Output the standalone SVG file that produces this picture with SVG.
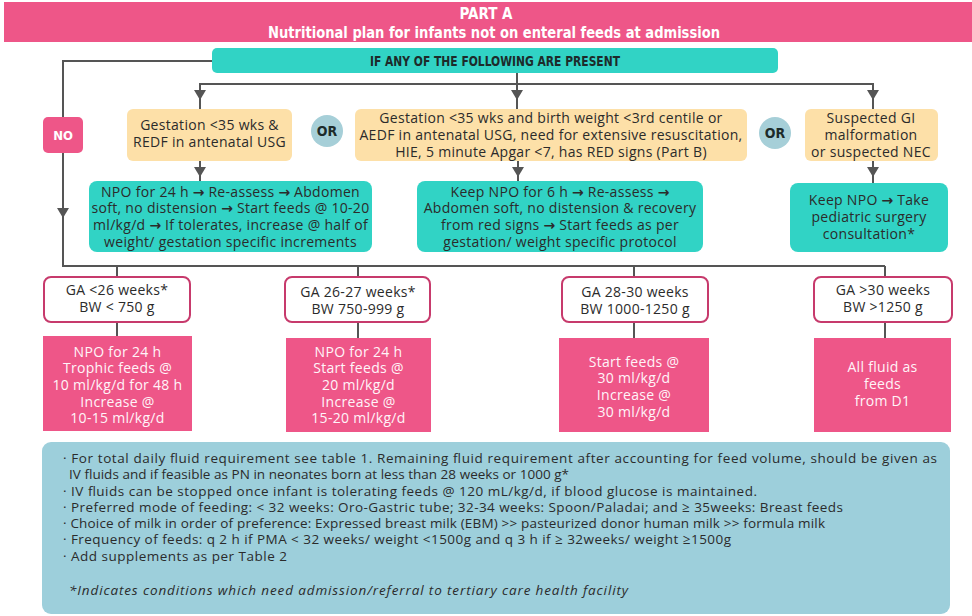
<svg xmlns="http://www.w3.org/2000/svg" width="972" height="616" viewBox="0 0 972 616">
<style>
.t{font-family:"Open Sans","Liberation Sans",sans-serif;font-size:14px;letter-spacing:0.3px;fill:#2b2b2b;text-anchor:middle}
.w{fill:#fff4f8}
.a{font-family:"DejaVu Sans",sans-serif;font-weight:bold;letter-spacing:0}
.n{font-family:"Open Sans","Liberation Sans",sans-serif;font-size:13.5px;fill:#2b2b2b}
.c{font-family:"DejaVu Sans Condensed","DejaVu Sans",sans-serif;font-stretch:condensed;font-weight:bold;text-anchor:middle}
.ln{stroke:#555;stroke-width:2;fill:none}
.ar{fill:#555}
.y{fill:#fde0a8}
.g{fill:#31d3c5}
.p{fill:#ee5688}
.ga{fill:#fff;stroke:#c73a6c;stroke-width:2}
</style>
<rect x="0" y="0" width="972" height="616" fill="#fff"/>
<g id="header">
<rect x="4" y="2" width="968" height="40" class="p"/>
<text x="486" y="19" class="c" font-size="15" fill="#fff">PART A</text>
<text x="494" y="38" class="c" font-size="15" fill="#fff" textLength="452" lengthAdjust="spacingAndGlyphs">Nutritional plan for infants not on enteral feeds at admission</text>
</g>
<g id="connectors">
<polyline class="ln" points="212,61 63,61 63,266 885,266"/>
<line class="ln" x1="517" y1="73" x2="517" y2="84"/>
<polyline class="ln" points="200,109 200,84 873,84 873,109"/>
<line class="ln" x1="517" y1="84" x2="517" y2="109"/>
<line class="ln" x1="200" y1="161" x2="200" y2="181"/>
<line class="ln" x1="518" y1="161" x2="518" y2="181"/>
<line class="ln" x1="873" y1="161" x2="873" y2="183"/>
<line class="ln" x1="117" y1="266" x2="117" y2="277"/>
<line class="ln" x1="358" y1="266" x2="358" y2="277"/>
<line class="ln" x1="634" y1="266" x2="634" y2="277"/>
<line class="ln" x1="885" y1="266" x2="885" y2="277"/>
<line class="ln" x1="117" y1="322" x2="117" y2="337"/>
<line class="ln" x1="358" y1="322" x2="358" y2="338"/>
<line class="ln" x1="634" y1="322" x2="634" y2="338"/>
<line class="ln" x1="885" y1="322" x2="885" y2="338"/>
<polygon class="ar" points="194,90 206,90 200,100"/>
<polygon class="ar" points="511,90 523,90 517,100"/>
<polygon class="ar" points="867,90 879,90 873,100"/>
<polygon class="ar" points="194,167 206,167 200,177"/>
<polygon class="ar" points="512,167 524,167 518,177"/>
<polygon class="ar" points="867,167 879,167 873,177"/>
<polygon class="ar" points="57,208 69,208 63,218"/>
</g>
<g id="start">
<rect x="212" y="48" width="566" height="25" rx="5" class="g"/>
<text x="495" y="66" class="c" font-size="14" fill="#1d2b2b" textLength="250" lengthAdjust="spacingAndGlyphs">IF ANY OF THE FOLLOWING ARE PRESENT</text>
</g>
<g id="no">
<rect x="43" y="117" width="40" height="36" rx="5" class="p"/>
<text x="63" y="140" class="c" font-size="13" fill="#fff">NO</text>
</g>
<g id="cond1">
<rect x="127" y="109" width="165" height="52" rx="6" class="y"/>
<text class="t" x="209.5" y="130">Gestation &lt;35 wks &amp;</text>
<text class="t" x="209.5" y="147">REDF in antenatal USG</text>
</g>
<g id="or1">
<circle cx="327" cy="131" r="16" fill="#a6cfd8"/>
<text x="327" y="136" class="c" font-size="14" fill="#1d2b2b">OR</text>
</g>
<g id="cond2">
<rect x="355" y="109" width="392" height="52" rx="6" class="y"/>
<text class="t" x="551" y="123">Gestation &lt;35 wks and birth weight &lt;3rd centile or</text>
<text class="t" x="551" y="140">AEDF in antenatal USG, need for extensive resuscitation,</text>
<text class="t" x="551" y="157">HIE, 5 minute Apgar &lt;7, has RED signs (Part B)</text>
</g>
<g id="or2">
<circle cx="775" cy="133" r="16" fill="#a6cfd8"/>
<text x="775" y="138" class="c" font-size="14" fill="#1d2b2b">OR</text>
</g>
<g id="cond3">
<rect x="805" y="109" width="133" height="52" rx="6" class="y"/>
<text class="t" x="871" y="123">Suspected GI</text>
<text class="t" x="871" y="140">malformation</text>
<text class="t" x="871" y="157">or suspected NEC</text>
</g>
<g id="act1">
<rect x="89" y="181" width="283" height="71" rx="8" class="g"/>
<text class="t" x="230.5" y="197">NPO for 24 h <tspan class="a">→</tspan> Re-assess <tspan class="a">→</tspan> Abdomen</text>
<text class="t" x="230.5" y="213">soft, no distension <tspan class="a">→</tspan> Start feeds @ 10-20</text>
<text class="t" x="230.5" y="230">ml/kg/d <tspan class="a">→</tspan> If tolerates, increase @ half of</text>
<text class="t" x="230.5" y="247">weight/ gestation specific increments</text>
</g>
<g id="act2">
<rect x="417" y="181" width="286" height="71" rx="8" class="g"/>
<text class="t" x="560" y="197">Keep NPO for 6 h <tspan class="a">→</tspan> Re-assess <tspan class="a">→</tspan></text>
<text class="t" x="560" y="213">Abdomen soft, no distension &amp; recovery</text>
<text class="t" x="560" y="230">from red signs <tspan class="a">→</tspan> Start feeds as per</text>
<text class="t" x="560" y="247">gestation/ weight specific protocol</text>
</g>
<g id="act3">
<rect x="790" y="183" width="158" height="69" rx="8" class="g"/>
<text class="t" x="869" y="205">Keep NPO <tspan class="a">→</tspan> Take</text>
<text class="t" x="869" y="222">pediatric surgery</text>
<text class="t" x="869" y="239">consultation*</text>
</g>
<g id="ga1">
<rect x="44" y="277" width="146" height="45" rx="7" class="ga"/>
<text class="t" x="117" y="295">GA &lt;26 weeks*</text>
<text class="t" x="117" y="312">BW &lt; 750 g</text>
</g>
<g id="ga2">
<rect x="285" y="277" width="145" height="45" rx="7" class="ga"/>
<text class="t" x="358" y="297">GA 26-27 weeks*</text>
<text class="t" x="358" y="314">BW 750-999 g</text>
</g>
<g id="ga3">
<rect x="562" y="277" width="146" height="45" rx="7" class="ga"/>
<text class="t" x="635" y="297">GA 28-30 weeks</text>
<text class="t" x="635" y="314">BW 1000-1250 g</text>
</g>
<g id="ga4">
<rect x="814" y="277" width="138" height="45" rx="7" class="ga"/>
<text class="t" x="883" y="295">GA &gt;30 weeks</text>
<text class="t" x="883" y="312">BW &gt;1250 g</text>
</g>
<g id="res1">
<rect x="43" y="336" width="149" height="95" class="p"/>
<text class="t w" x="117.5" y="357">NPO for 24 h</text>
<text class="t w" x="117.5" y="373">Trophic feeds @</text>
<text class="t w" x="117.5" y="390">10 ml/kg/d for 48 h</text>
<text class="t w" x="117.5" y="407">Increase @</text>
<text class="t w" x="117.5" y="423">10-15 ml/kg/d</text>
</g>
<g id="res2">
<rect x="286" y="338" width="145" height="94" class="p"/>
<text class="t w" x="358.5" y="357">NPO for 24 h</text>
<text class="t w" x="358.5" y="373">Start feeds @</text>
<text class="t w" x="358.5" y="390">20 ml/kg/d</text>
<text class="t w" x="358.5" y="407">Increase @</text>
<text class="t w" x="358.5" y="423">15-20 ml/kg/d</text>
</g>
<g id="res3">
<rect x="559" y="338" width="150" height="94" class="p"/>
<text class="t w" x="634" y="367">Start feeds @</text>
<text class="t w" x="634" y="383">30 ml/kg/d</text>
<text class="t w" x="634" y="400">Increase @</text>
<text class="t w" x="634" y="417">30 ml/kg/d</text>
</g>
<g id="res4">
<rect x="814" y="338" width="137" height="94" class="p"/>
<text class="t w" x="882.5" y="372">All fluid as</text>
<text class="t w" x="882.5" y="389">feeds</text>
<text class="t w" x="882.5" y="406">from D1</text>
</g>
<g id="notes">
<rect x="42" y="442" width="908" height="172" rx="9" fill="#9dcfdb"/>
<text class="n" x="63" y="463" textLength="874">· For total daily fluid requirement see table 1. Remaining fluid requirement after accounting for feed volume, should be given as</text>
<text class="n" x="69" y="479" textLength="500">IV fluids and if feasible as PN in neonates born at less than 28 weeks or 1000 g*</text>
<text class="n" x="63" y="496" textLength="694">· IV fluids can be stopped once infant is tolerating feeds @ 120 mL/kg/d, if blood glucose is maintained.</text>
<text class="n" x="63" y="512" textLength="780">· Preferred mode of feeding: &lt; 32 weeks: Oro-Gastric tube; 32-34 weeks: Spoon/Paladai; and ≥ 35weeks: Breast feeds</text>
<text class="n" x="63" y="528" textLength="762">· Choice of milk in order of preference: Expressed breast milk (EBM) &gt;&gt; pasteurized donor human milk &gt;&gt; formula milk</text>
<text class="n" x="63" y="544" textLength="668">· Frequency of feeds: q 2 h if PMA &lt; 32 weeks/ weight &lt;1500g and q 3 h if ≥ 32weeks/ weight ≥1500g</text>
<text class="n" x="63" y="561" textLength="224">· Add supplements as per Table 2</text>
<text class="n" x="69" y="595" font-style="italic" textLength="559">*Indicates conditions which need admission/referral to tertiary care health facility</text>
</g>
</svg>
